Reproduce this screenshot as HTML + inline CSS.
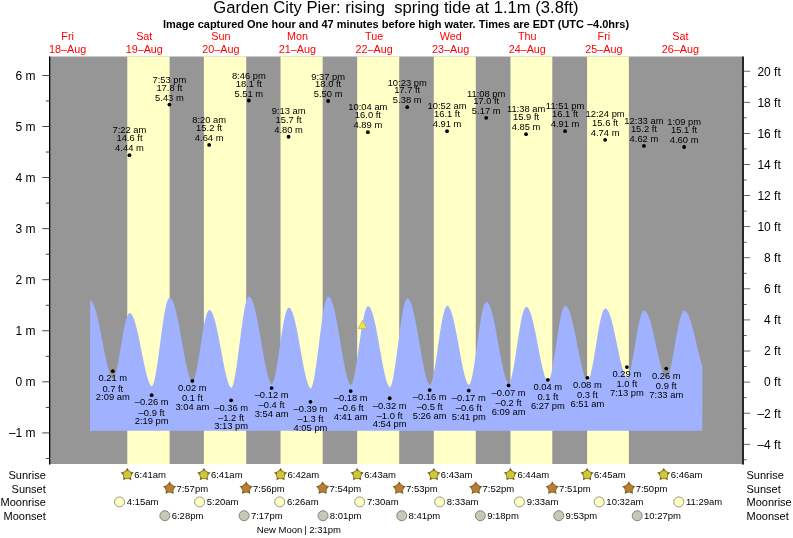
<!DOCTYPE html>
<html lang="en"><head><meta charset="utf-8"><title>Garden City Pier tide times</title>
<style>html,body{margin:0;padding:0;background:#fff}body{width:793px;height:538px;overflow:hidden}svg{display:block}</style>
</head><body>
<svg width="793" height="538" viewBox="0 0 793 538" font-family="'Liberation Sans', Arial, Helvetica, sans-serif" fill="#000">
<rect x="0" y="0" width="793" height="538" fill="#fff"/>
<rect x="49.5" y="56.5" width="693.5" height="407.5" fill="#969696"/>
<rect x="127.28" y="56.5" width="42.34" height="407.5" fill="#ffffc6"/>
<rect x="203.88" y="56.5" width="42.29" height="407.5" fill="#ffffc6"/>
<rect x="280.53" y="56.5" width="42.13" height="407.5" fill="#ffffc6"/>
<rect x="357.19" y="56.5" width="42.02" height="407.5" fill="#ffffc6"/>
<rect x="433.79" y="56.5" width="41.97" height="407.5" fill="#ffffc6"/>
<rect x="510.44" y="56.5" width="41.86" height="407.5" fill="#ffffc6"/>
<rect x="587.09" y="56.5" width="41.76" height="407.5" fill="#ffffc6"/>
<path d="M89.99,430.8 L90.19,300.44 L90.69,300.58 L91.19,300.88 L91.69,301.34 L92.19,301.96 L92.69,302.75 L93.19,303.69 L93.69,304.78 L94.19,306.02 L94.69,307.40 L95.19,308.92 L95.69,310.57 L96.19,312.35 L96.69,314.24 L97.19,316.25 L97.69,318.35 L98.20,320.55 L98.70,322.83 L99.20,325.19 L99.70,327.62 L100.20,330.10 L100.70,332.62 L101.20,335.19 L101.70,337.77 L102.20,340.37 L102.70,342.97 L103.20,345.57 L103.70,348.14 L104.20,350.69 L104.70,353.20 L105.20,355.65 L105.70,358.04 L106.20,360.35 L106.70,362.58 L107.20,364.72 L107.70,366.75 L108.20,368.66 L108.70,370.45 L109.20,372.10 L109.70,373.60 L110.20,374.95 L110.70,376.12 L111.20,377.12 L111.70,377.92 L112.20,378.51 L112.70,378.86 L113.20,378.89 L113.70,378.46 L114.20,377.66 L114.70,376.54 L115.20,375.14 L115.70,373.47 L116.20,371.56 L116.70,369.44 L117.20,367.13 L117.70,364.65 L118.20,362.02 L118.70,359.26 L119.20,356.41 L119.70,353.48 L120.20,350.50 L120.70,347.50 L121.20,344.49 L121.70,341.51 L122.21,338.57 L122.71,335.70 L123.21,332.92 L123.71,330.25 L124.21,327.71 L124.71,325.33 L125.21,323.12 L125.71,321.10 L126.21,319.28 L126.71,317.68 L127.21,316.31 L127.71,315.17 L128.21,314.29 L128.71,313.66 L129.21,313.29 L129.71,313.18 L130.21,313.28 L130.71,313.54 L131.21,313.97 L131.71,314.55 L132.21,315.30 L132.71,316.20 L133.21,317.26 L133.71,318.46 L134.21,319.80 L134.71,321.28 L135.21,322.89 L135.71,324.63 L136.21,326.48 L136.71,328.44 L137.21,330.50 L137.71,332.64 L138.21,334.87 L138.71,337.17 L139.21,339.54 L139.71,341.95 L140.21,344.41 L140.71,346.89 L141.21,349.39 L141.71,351.90 L142.21,354.41 L142.71,356.90 L143.21,359.36 L143.71,361.79 L144.21,364.16 L144.71,366.48 L145.21,368.72 L145.72,370.88 L146.22,372.94 L146.72,374.90 L147.22,376.74 L147.72,378.46 L148.22,380.04 L148.72,381.47 L149.22,382.74 L149.72,383.84 L150.22,384.75 L150.72,385.47 L151.22,385.97 L151.72,386.23 L152.22,386.05 L152.72,385.36 L153.22,384.26 L153.72,382.79 L154.22,380.98 L154.72,378.87 L155.22,376.48 L155.72,373.83 L156.22,370.94 L156.72,367.85 L157.22,364.59 L157.72,361.16 L158.22,357.61 L158.72,353.96 L159.22,350.24 L159.72,346.47 L160.22,342.67 L160.72,338.89 L161.22,335.14 L161.72,331.44 L162.22,327.83 L162.72,324.33 L163.22,320.97 L163.72,317.75 L164.22,314.72 L164.72,311.89 L165.22,309.27 L165.72,306.88 L166.22,304.75 L166.72,302.88 L167.22,301.29 L167.72,299.99 L168.22,298.98 L168.72,298.28 L169.22,297.88 L169.73,297.80 L170.23,297.92 L170.73,298.23 L171.23,298.71 L171.73,299.37 L172.23,300.20 L172.73,301.19 L173.23,302.35 L173.73,303.67 L174.23,305.15 L174.73,306.77 L175.23,308.54 L175.73,310.43 L176.23,312.46 L176.73,314.60 L177.23,316.86 L177.73,319.21 L178.23,321.66 L178.73,324.19 L179.23,326.79 L179.73,329.45 L180.23,332.16 L180.73,334.91 L181.23,337.69 L181.73,340.48 L182.23,343.27 L182.73,346.06 L183.23,348.83 L183.73,351.56 L184.23,354.25 L184.73,356.89 L185.23,359.46 L185.73,361.94 L186.23,364.34 L186.73,366.64 L187.23,368.82 L187.73,370.87 L188.23,372.79 L188.73,374.56 L189.23,376.18 L189.73,377.62 L190.23,378.88 L190.73,379.95 L191.23,380.80 L191.73,381.43 L192.23,381.81 L192.73,381.83 L193.23,381.36 L193.74,380.50 L194.24,379.30 L194.74,377.78 L195.24,375.99 L195.74,373.94 L196.24,371.65 L196.74,369.16 L197.24,366.49 L197.74,363.65 L198.24,360.68 L198.74,357.61 L199.24,354.45 L199.74,351.23 L200.24,347.98 L200.74,344.73 L201.24,341.49 L201.74,338.30 L202.24,335.19 L202.74,332.16 L203.24,329.25 L203.74,326.48 L204.24,323.87 L204.74,321.44 L205.24,319.20 L205.74,317.18 L206.24,315.39 L206.74,313.84 L207.24,312.55 L207.74,311.52 L208.24,310.76 L208.74,310.28 L209.24,310.08 L209.74,310.13 L210.24,310.36 L210.74,310.77 L211.24,311.35 L211.74,312.11 L212.24,313.03 L212.74,314.13 L213.24,315.38 L213.74,316.79 L214.24,318.35 L214.74,320.05 L215.24,321.89 L215.74,323.86 L216.24,325.94 L216.74,328.13 L217.25,330.43 L217.75,332.81 L218.25,335.27 L218.75,337.80 L219.25,340.39 L219.75,343.02 L220.25,345.69 L220.75,348.37 L221.25,351.07 L221.75,353.76 L222.25,356.44 L222.75,359.08 L223.25,361.69 L223.75,364.25 L224.25,366.73 L224.75,369.14 L225.25,371.46 L225.75,373.68 L226.25,375.78 L226.75,377.76 L227.25,379.59 L227.75,381.28 L228.25,382.81 L228.75,384.16 L229.25,385.33 L229.75,386.29 L230.25,387.04 L230.75,387.55 L231.25,387.79 L231.75,387.54 L232.25,386.77 L232.75,385.58 L233.25,384.01 L233.75,382.09 L234.25,379.87 L234.75,377.35 L235.25,374.57 L235.75,371.55 L236.25,368.33 L236.75,364.92 L237.25,361.36 L237.75,357.67 L238.25,353.87 L238.75,350.01 L239.25,346.10 L239.75,342.18 L240.25,338.26 L240.75,334.39 L241.26,330.58 L241.76,326.86 L242.26,323.27 L242.76,319.81 L243.26,316.52 L243.76,313.42 L244.26,310.53 L244.76,307.87 L245.26,305.45 L245.76,303.30 L246.26,301.43 L246.76,299.84 L247.26,298.56 L247.76,297.59 L248.26,296.93 L248.76,296.59 L249.26,296.57 L249.76,296.75 L250.26,297.11 L250.76,297.66 L251.26,298.40 L251.76,299.31 L252.26,300.40 L252.76,301.67 L253.26,303.10 L253.76,304.69 L254.26,306.43 L254.76,308.32 L255.26,310.36 L255.76,312.52 L256.26,314.81 L256.76,317.20 L257.26,319.71 L257.76,322.30 L258.26,324.98 L258.76,327.73 L259.26,330.54 L259.76,333.40 L260.26,336.29 L260.76,339.21 L261.26,342.13 L261.76,345.06 L262.26,347.97 L262.76,350.86 L263.26,353.71 L263.76,356.50 L264.26,359.24 L264.77,361.89 L265.27,364.46 L265.77,366.92 L266.27,369.27 L266.77,371.50 L267.27,373.58 L267.77,375.52 L268.27,377.30 L268.77,378.90 L269.27,380.32 L269.77,381.54 L270.27,382.54 L270.77,383.32 L271.27,383.84 L271.77,384.06 L272.27,383.79 L272.77,383.07 L273.27,381.96 L273.77,380.52 L274.27,378.77 L274.77,376.74 L275.27,374.46 L275.77,371.94 L276.27,369.22 L276.77,366.31 L277.27,363.26 L277.77,360.07 L278.27,356.78 L278.77,353.42 L279.27,350.01 L279.77,346.58 L280.27,343.15 L280.77,339.75 L281.27,336.41 L281.77,333.16 L282.27,330.01 L282.77,326.98 L283.27,324.12 L283.77,321.42 L284.27,318.92 L284.77,316.63 L285.27,314.57 L285.77,312.75 L286.27,311.19 L286.77,309.90 L287.27,308.89 L287.77,308.16 L288.27,307.73 L288.78,307.58 L289.28,307.68 L289.78,307.96 L290.28,308.43 L290.78,309.08 L291.28,309.91 L291.78,310.92 L292.28,312.10 L292.78,313.44 L293.28,314.95 L293.78,316.61 L294.28,318.42 L294.78,320.37 L295.28,322.44 L295.78,324.64 L296.28,326.95 L296.78,329.37 L297.28,331.87 L297.78,334.45 L298.28,337.10 L298.78,339.81 L299.28,342.56 L299.78,345.34 L300.28,348.14 L300.78,350.94 L301.28,353.74 L301.78,356.52 L302.28,359.26 L302.78,361.96 L303.28,364.60 L303.78,367.16 L304.28,369.64 L304.78,372.02 L305.28,374.29 L305.78,376.44 L306.28,378.45 L306.78,380.32 L307.28,382.02 L307.78,383.55 L308.28,384.90 L308.78,386.05 L309.28,386.98 L309.78,387.68 L310.28,388.13 L310.78,388.24 L311.28,387.79 L311.78,386.87 L312.29,385.53 L312.79,383.83 L313.29,381.79 L313.79,379.44 L314.29,376.81 L314.79,373.93 L315.29,370.82 L315.79,367.50 L316.29,364.01 L316.79,360.37 L317.29,356.62 L317.79,352.77 L318.29,348.86 L318.79,344.92 L319.29,340.97 L319.79,337.04 L320.29,333.16 L320.79,329.36 L321.29,325.67 L321.79,322.10 L322.29,318.69 L322.79,315.45 L323.29,312.42 L323.79,309.60 L324.29,307.02 L324.79,304.70 L325.29,302.65 L325.79,300.89 L326.29,299.42 L326.79,298.26 L327.29,297.42 L327.79,296.90 L328.29,296.70 L328.79,296.78 L329.29,297.05 L329.79,297.51 L330.29,298.16 L330.79,299.00 L331.29,300.02 L331.79,301.22 L332.29,302.59 L332.79,304.13 L333.29,305.84 L333.79,307.69 L334.29,309.70 L334.79,311.85 L335.29,314.12 L335.79,316.52 L336.30,319.02 L336.80,321.63 L337.30,324.33 L337.80,327.10 L338.30,329.94 L338.80,332.83 L339.30,335.76 L339.80,338.73 L340.30,341.71 L340.80,344.69 L341.30,347.66 L341.80,350.61 L342.30,353.53 L342.80,356.39 L343.30,359.19 L343.80,361.92 L344.30,364.56 L344.80,367.09 L345.30,369.52 L345.80,371.81 L346.30,373.97 L346.80,375.98 L347.30,377.82 L347.80,379.49 L348.30,380.97 L348.80,382.25 L349.30,383.31 L349.80,384.14 L350.30,384.71 L350.80,384.99 L351.30,384.79 L351.80,384.11 L352.30,383.05 L352.80,381.64 L353.30,379.92 L353.80,377.90 L354.30,375.63 L354.80,373.12 L355.30,370.40 L355.80,367.48 L356.30,364.41 L356.80,361.20 L357.30,357.89 L357.80,354.48 L358.30,351.02 L358.80,347.54 L359.30,344.04 L359.81,340.57 L360.31,337.15 L360.81,333.80 L361.31,330.55 L361.81,327.42 L362.31,324.43 L362.81,321.61 L363.31,318.98 L363.81,316.55 L364.31,314.34 L364.81,312.37 L365.31,310.66 L365.81,309.21 L366.31,308.03 L366.81,307.14 L367.31,306.54 L367.81,306.23 L368.31,306.20 L368.81,306.39 L369.31,306.76 L369.81,307.31 L370.31,308.05 L370.81,308.97 L371.31,310.07 L371.81,311.34 L372.31,312.78 L372.81,314.37 L373.31,316.12 L373.81,318.02 L374.31,320.05 L374.81,322.21 L375.31,324.48 L375.81,326.87 L376.31,329.35 L376.81,331.92 L377.31,334.56 L377.81,337.26 L378.31,340.02 L378.81,342.81 L379.31,345.63 L379.81,348.46 L380.31,351.28 L380.81,354.10 L381.31,356.88 L381.81,359.62 L382.31,362.31 L382.81,364.93 L383.31,367.47 L383.82,369.91 L384.32,372.25 L384.82,374.47 L385.32,376.55 L385.82,378.49 L386.32,380.28 L386.82,381.89 L387.32,383.32 L387.82,384.55 L388.32,385.58 L388.82,386.37 L389.32,386.91 L389.82,387.17 L390.32,386.92 L390.82,386.16 L391.32,384.99 L391.82,383.44 L392.32,381.54 L392.82,379.34 L393.32,376.84 L393.82,374.09 L394.32,371.11 L394.82,367.92 L395.32,364.55 L395.82,361.03 L396.32,357.39 L396.82,353.65 L397.32,349.84 L397.82,346.00 L398.32,342.14 L398.82,338.30 L399.32,334.50 L399.82,330.78 L400.32,327.15 L400.82,323.65 L401.32,320.29 L401.82,317.11 L402.32,314.12 L402.82,311.34 L403.32,308.80 L403.82,306.51 L404.32,304.48 L404.82,302.74 L405.32,301.28 L405.82,300.13 L406.32,299.30 L406.82,298.77 L407.33,298.57 L407.83,298.64 L408.33,298.90 L408.83,299.34 L409.33,299.98 L409.83,300.79 L410.33,301.79 L410.83,302.96 L411.33,304.30 L411.83,305.80 L412.33,307.47 L412.83,309.29 L413.33,311.25 L413.83,313.34 L414.33,315.57 L414.83,317.91 L415.33,320.36 L415.83,322.91 L416.33,325.55 L416.83,328.26 L417.33,331.04 L417.83,333.87 L418.33,336.74 L418.83,339.63 L419.33,342.55 L419.83,345.46 L420.33,348.37 L420.83,351.25 L421.33,354.10 L421.83,356.90 L422.33,359.63 L422.83,362.30 L423.33,364.87 L423.83,367.35 L424.33,369.71 L424.83,371.95 L425.33,374.05 L425.83,376.00 L426.33,377.80 L426.83,379.41 L427.33,380.85 L427.83,382.08 L428.33,383.11 L428.83,383.90 L429.33,384.44 L429.83,384.68 L430.33,384.45 L430.83,383.75 L431.34,382.67 L431.84,381.26 L432.34,379.54 L432.84,377.54 L433.34,375.28 L433.84,372.79 L434.34,370.09 L434.84,367.21 L435.34,364.17 L435.84,360.99 L436.34,357.71 L436.84,354.34 L437.34,350.92 L437.84,347.46 L438.34,344.00 L438.84,340.56 L439.34,337.16 L439.84,333.83 L440.34,330.60 L440.84,327.48 L441.34,324.50 L441.84,321.69 L442.34,319.05 L442.84,316.61 L443.34,314.39 L443.84,312.39 L444.34,310.65 L444.84,309.16 L445.34,307.94 L445.84,307.00 L446.34,306.34 L446.84,305.96 L447.34,305.88 L447.84,306.01 L448.34,306.33 L448.84,306.83 L449.34,307.51 L449.84,308.37 L450.34,309.41 L450.84,310.61 L451.34,311.98 L451.84,313.51 L452.34,315.18 L452.84,317.01 L453.34,318.96 L453.84,321.05 L454.34,323.25 L454.84,325.56 L455.35,327.97 L455.85,330.46 L456.35,333.03 L456.85,335.66 L457.35,338.35 L457.85,341.07 L458.35,343.82 L458.85,346.58 L459.35,349.35 L459.85,352.10 L460.35,354.83 L460.85,357.52 L461.35,360.16 L461.85,362.73 L462.35,365.22 L462.85,367.63 L463.35,369.93 L463.85,372.12 L464.35,374.18 L464.85,376.10 L465.35,377.86 L465.85,379.47 L466.35,380.89 L466.85,382.13 L467.35,383.16 L467.85,383.96 L468.35,384.53 L468.85,384.82 L469.35,384.67 L469.85,384.01 L470.35,382.94 L470.85,381.52 L471.35,379.77 L471.85,377.72 L472.35,375.39 L472.85,372.82 L473.35,370.03 L473.85,367.03 L474.35,363.87 L474.85,360.56 L475.35,357.13 L475.85,353.61 L476.35,350.03 L476.85,346.40 L477.35,342.77 L477.85,339.15 L478.35,335.57 L478.86,332.05 L479.36,328.63 L479.86,325.33 L480.36,322.17 L480.86,319.17 L481.36,316.35 L481.86,313.74 L482.36,311.35 L482.86,309.20 L483.36,307.30 L483.86,305.66 L484.36,304.31 L484.86,303.24 L485.36,302.47 L485.86,302.00 L486.36,301.83 L486.86,301.91 L487.36,302.17 L487.86,302.61 L488.36,303.23 L488.86,304.02 L489.36,304.99 L489.86,306.12 L490.36,307.41 L490.86,308.86 L491.36,310.46 L491.86,312.20 L492.36,314.09 L492.86,316.10 L493.36,318.23 L493.86,320.47 L494.36,322.82 L494.86,325.25 L495.36,327.77 L495.86,330.36 L496.36,333.01 L496.86,335.70 L497.36,338.44 L497.86,341.19 L498.36,343.96 L498.86,346.73 L499.36,349.49 L499.86,352.22 L500.36,354.92 L500.86,357.57 L501.36,360.16 L501.86,362.67 L502.36,365.09 L502.87,367.42 L503.37,369.64 L503.87,371.74 L504.37,373.70 L504.87,375.52 L505.37,377.18 L505.87,378.68 L506.37,379.99 L506.87,381.11 L507.37,382.02 L507.87,382.71 L508.37,383.15 L508.87,383.28 L509.37,382.90 L509.87,382.13 L510.37,381.00 L510.87,379.57 L511.37,377.84 L511.87,375.86 L512.37,373.63 L512.87,371.19 L513.37,368.56 L513.87,365.75 L514.37,362.80 L514.87,359.73 L515.37,356.55 L515.87,353.30 L516.37,350.00 L516.87,346.68 L517.37,343.35 L517.87,340.04 L518.37,336.79 L518.87,333.59 L519.37,330.50 L519.87,327.51 L520.37,324.66 L520.87,321.96 L521.37,319.44 L521.87,317.10 L522.37,314.98 L522.87,313.07 L523.37,311.40 L523.87,309.97 L524.37,308.80 L524.87,307.90 L525.37,307.26 L525.87,306.90 L526.38,306.81 L526.88,306.93 L527.38,307.23 L527.88,307.70 L528.38,308.34 L528.88,309.15 L529.38,310.12 L529.88,311.26 L530.38,312.55 L530.88,313.99 L531.38,315.58 L531.88,317.30 L532.38,319.15 L532.88,321.12 L533.38,323.20 L533.88,325.39 L534.38,327.66 L534.88,330.02 L535.38,332.45 L535.88,334.94 L536.38,337.48 L536.88,340.06 L537.38,342.67 L537.88,345.28 L538.38,347.90 L538.88,350.51 L539.38,353.09 L539.88,355.64 L540.38,358.14 L540.88,360.57 L541.38,362.94 L541.88,365.22 L542.38,367.40 L542.88,369.48 L543.38,371.43 L543.88,373.25 L544.38,374.93 L544.88,376.45 L545.38,377.80 L545.88,378.98 L546.38,379.96 L546.88,380.73 L547.38,381.27 L547.88,381.56 L548.38,381.43 L548.88,380.82 L549.38,379.85 L549.88,378.54 L550.39,376.92 L550.89,375.03 L551.39,372.88 L551.89,370.51 L552.39,367.92 L552.89,365.16 L553.39,362.24 L553.89,359.18 L554.39,356.02 L554.89,352.77 L555.39,349.47 L555.89,346.13 L556.39,342.78 L556.89,339.45 L557.39,336.17 L557.89,332.95 L558.39,329.81 L558.89,326.79 L559.39,323.91 L559.89,321.18 L560.39,318.62 L560.89,316.26 L561.39,314.10 L561.89,312.17 L562.39,310.48 L562.89,309.04 L563.39,307.86 L563.89,306.95 L564.39,306.31 L564.89,305.96 L565.39,305.88 L565.89,306.00 L566.39,306.29 L566.89,306.75 L567.39,307.37 L567.89,308.15 L568.39,309.08 L568.89,310.18 L569.39,311.42 L569.89,312.80 L570.39,314.32 L570.89,315.97 L571.39,317.75 L571.89,319.65 L572.39,321.65 L572.89,323.75 L573.39,325.95 L573.90,328.22 L574.40,330.57 L574.90,332.99 L575.40,335.45 L575.90,337.95 L576.40,340.49 L576.90,343.04 L577.40,345.60 L577.90,348.16 L578.40,350.70 L578.90,353.21 L579.40,355.69 L579.90,358.12 L580.40,360.48 L580.90,362.78 L581.40,364.99 L581.90,367.10 L582.40,369.11 L582.90,371.00 L583.40,372.77 L583.90,374.40 L584.40,375.87 L584.90,377.19 L585.40,378.34 L585.90,379.30 L586.40,380.07 L586.90,380.61 L587.40,380.92 L587.90,380.86 L588.40,380.35 L588.90,379.50 L589.40,378.34 L589.90,376.90 L590.40,375.20 L590.90,373.27 L591.40,371.12 L591.90,368.78 L592.40,366.27 L592.90,363.60 L593.40,360.81 L593.90,357.90 L594.40,354.92 L594.90,351.86 L595.40,348.77 L595.90,345.65 L596.40,342.54 L596.90,339.45 L597.40,336.41 L597.91,333.44 L598.41,330.55 L598.91,327.78 L599.41,325.13 L599.91,322.62 L600.41,320.27 L600.91,318.10 L601.41,316.13 L601.91,314.36 L602.41,312.80 L602.91,311.48 L603.41,310.39 L603.91,309.54 L604.41,308.95 L604.91,308.61 L605.41,308.52 L605.91,308.63 L606.41,308.90 L606.91,309.33 L607.41,309.92 L607.91,310.66 L608.41,311.56 L608.91,312.60 L609.41,313.80 L609.91,315.13 L610.41,316.59 L610.91,318.18 L611.41,319.89 L611.91,321.71 L612.41,323.63 L612.91,325.65 L613.41,327.75 L613.91,329.93 L614.41,332.18 L614.91,334.48 L615.41,336.83 L615.91,339.22 L616.41,341.63 L616.91,344.05 L617.41,346.47 L617.91,348.88 L618.41,351.27 L618.91,353.63 L619.41,355.94 L619.91,358.20 L620.41,360.39 L620.91,362.50 L621.42,364.52 L621.92,366.44 L622.42,368.25 L622.92,369.94 L623.42,371.50 L623.92,372.91 L624.42,374.17 L624.92,375.26 L625.42,376.17 L625.92,376.89 L626.42,377.40 L626.92,377.67 L627.42,377.56 L627.92,377.03 L628.42,376.15 L628.92,374.96 L629.42,373.50 L629.92,371.79 L630.42,369.85 L630.92,367.70 L631.42,365.36 L631.92,362.86 L632.42,360.22 L632.92,357.45 L633.42,354.59 L633.92,351.66 L634.42,348.68 L634.92,345.67 L635.42,342.66 L635.92,339.67 L636.42,336.72 L636.92,333.84 L637.42,331.04 L637.92,328.35 L638.42,325.78 L638.92,323.36 L639.42,321.11 L639.92,319.03 L640.42,317.15 L640.92,315.48 L641.42,314.03 L641.92,312.81 L642.42,311.83 L642.92,311.10 L643.42,310.62 L643.92,310.40 L644.42,310.41 L644.92,310.58 L645.43,310.91 L645.93,311.38 L646.43,311.99 L646.93,312.75 L647.43,313.66 L647.93,314.69 L648.43,315.87 L648.93,317.17 L649.43,318.59 L649.93,320.12 L650.43,321.77 L650.93,323.52 L651.43,325.37 L651.93,327.30 L652.43,329.31 L652.93,331.39 L653.43,333.54 L653.93,335.74 L654.43,337.97 L654.93,340.25 L655.43,342.54 L655.93,344.85 L656.43,347.16 L656.93,349.47 L657.43,351.75 L657.93,354.01 L658.43,356.23 L658.93,358.40 L659.43,360.51 L659.93,362.55 L660.43,364.51 L660.93,366.39 L661.43,368.16 L661.93,369.82 L662.43,371.37 L662.93,372.78 L663.43,374.06 L663.93,375.19 L664.43,376.16 L664.93,376.96 L665.43,377.58 L665.93,377.99 L666.43,378.16 L666.93,377.93 L667.43,377.33 L667.93,376.44 L668.43,375.27 L668.93,373.85 L669.44,372.20 L669.94,370.35 L670.44,368.31 L670.94,366.09 L671.44,363.73 L671.94,361.23 L672.44,358.62 L672.94,355.91 L673.44,353.13 L673.94,350.30 L674.44,347.44 L674.94,344.56 L675.44,341.70 L675.94,338.85 L676.44,336.06 L676.94,333.33 L677.44,330.69 L677.94,328.14 L678.44,325.72 L678.94,323.43 L679.44,321.29 L679.94,319.32 L680.44,317.53 L680.94,315.92 L681.44,314.51 L681.94,313.32 L682.44,312.34 L682.94,311.58 L683.44,311.06 L683.94,310.76 L684.44,310.70 L684.94,310.80 L685.44,311.04 L685.94,311.41 L686.44,311.91 L686.94,312.55 L687.44,313.32 L687.94,314.21 L688.44,315.23 L688.94,316.36 L689.44,317.61 L689.94,318.96 L690.44,320.42 L690.94,321.98 L691.44,323.63 L691.94,325.36 L692.44,327.17 L692.95,329.05 L693.45,330.99 L693.95,332.99 L694.45,335.03 L694.95,337.11 L695.45,339.22 L695.95,341.35 L696.45,343.49 L696.95,345.64 L697.45,347.78 L697.95,349.90 L698.45,352.00 L698.95,354.06 L699.45,356.08 L699.95,358.05 L700.45,359.96 L700.95,361.80 L701.45,363.55 L701.95,365.23 L702.45,366.80 L702.25,430.8 Z" fill="#a0b2ff"/>
<rect x="49" y="56.5" width="1.3" height="408.1" fill="#000"/>
<rect x="742" y="56.5" width="2" height="408.1" fill="#26262e"/>
<rect x="45.8" y="458.00" width="3.5" height="0.9" fill="#333"/>
<rect x="42.3" y="432.47" width="7" height="0.9" fill="#333"/>
<text x="35.6" y="437" font-size="12" text-anchor="end">–1 m</text>
<rect x="45.8" y="406.94" width="3.5" height="0.9" fill="#333"/>
<rect x="42.3" y="381.40" width="7" height="0.9" fill="#333"/>
<text x="35.6" y="386" font-size="12" text-anchor="end">0 m</text>
<rect x="45.8" y="355.86" width="3.5" height="0.9" fill="#333"/>
<rect x="42.3" y="330.33" width="7" height="0.9" fill="#333"/>
<text x="35.6" y="335" font-size="12" text-anchor="end">1 m</text>
<rect x="45.8" y="304.79" width="3.5" height="0.9" fill="#333"/>
<rect x="42.3" y="279.26" width="7" height="0.9" fill="#333"/>
<text x="35.6" y="284" font-size="12" text-anchor="end">2 m</text>
<rect x="45.8" y="253.72" width="3.5" height="0.9" fill="#333"/>
<rect x="42.3" y="228.19" width="7" height="0.9" fill="#333"/>
<text x="35.6" y="233" font-size="12" text-anchor="end">3 m</text>
<rect x="45.8" y="202.65" width="3.5" height="0.9" fill="#333"/>
<rect x="42.3" y="177.12" width="7" height="0.9" fill="#333"/>
<text x="35.6" y="182" font-size="12" text-anchor="end">4 m</text>
<rect x="45.8" y="151.58" width="3.5" height="0.9" fill="#333"/>
<rect x="42.3" y="126.05" width="7" height="0.9" fill="#333"/>
<text x="35.6" y="131" font-size="12" text-anchor="end">5 m</text>
<rect x="45.8" y="100.51" width="3.5" height="0.9" fill="#333"/>
<rect x="42.3" y="74.98" width="7" height="0.9" fill="#333"/>
<text x="35.6" y="80" font-size="12" text-anchor="end">6 m</text>
<rect x="743.5" y="459.42" width="3.2" height="0.8" fill="#444"/>
<rect x="743.5" y="443.88" width="6.7" height="0.8" fill="#444"/>
<text x="780.8" y="449" font-size="12" text-anchor="end">–4 ft</text>
<rect x="743.5" y="428.33" width="3.2" height="0.8" fill="#444"/>
<rect x="743.5" y="412.79" width="6.7" height="0.8" fill="#444"/>
<text x="780.8" y="418" font-size="12" text-anchor="end">–2 ft</text>
<rect x="743.5" y="397.25" width="3.2" height="0.8" fill="#444"/>
<rect x="743.5" y="381.70" width="6.7" height="0.8" fill="#444"/>
<text x="780.8" y="386" font-size="12" text-anchor="end">0 ft</text>
<rect x="743.5" y="366.15" width="3.2" height="0.8" fill="#444"/>
<rect x="743.5" y="350.61" width="6.7" height="0.8" fill="#444"/>
<text x="780.8" y="355" font-size="12" text-anchor="end">2 ft</text>
<rect x="743.5" y="335.06" width="3.2" height="0.8" fill="#444"/>
<rect x="743.5" y="319.52" width="6.7" height="0.8" fill="#444"/>
<text x="780.8" y="324" font-size="12" text-anchor="end">4 ft</text>
<rect x="743.5" y="303.98" width="3.2" height="0.8" fill="#444"/>
<rect x="743.5" y="288.43" width="6.7" height="0.8" fill="#444"/>
<text x="780.8" y="293" font-size="12" text-anchor="end">6 ft</text>
<rect x="743.5" y="272.88" width="3.2" height="0.8" fill="#444"/>
<rect x="743.5" y="257.34" width="6.7" height="0.8" fill="#444"/>
<text x="780.8" y="262" font-size="12" text-anchor="end">8 ft</text>
<rect x="743.5" y="241.79" width="3.2" height="0.8" fill="#444"/>
<rect x="743.5" y="226.25" width="6.7" height="0.8" fill="#444"/>
<text x="780.8" y="231" font-size="12" text-anchor="end">10 ft</text>
<rect x="743.5" y="210.70" width="3.2" height="0.8" fill="#444"/>
<rect x="743.5" y="195.16" width="6.7" height="0.8" fill="#444"/>
<text x="780.8" y="200" font-size="12" text-anchor="end">12 ft</text>
<rect x="743.5" y="179.61" width="3.2" height="0.8" fill="#444"/>
<rect x="743.5" y="164.07" width="6.7" height="0.8" fill="#444"/>
<text x="780.8" y="169" font-size="12" text-anchor="end">14 ft</text>
<rect x="743.5" y="148.52" width="3.2" height="0.8" fill="#444"/>
<rect x="743.5" y="132.98" width="6.7" height="0.8" fill="#444"/>
<text x="780.8" y="138" font-size="12" text-anchor="end">16 ft</text>
<rect x="743.5" y="117.44" width="3.2" height="0.8" fill="#444"/>
<rect x="743.5" y="101.89" width="6.7" height="0.8" fill="#444"/>
<text x="780.8" y="107" font-size="12" text-anchor="end">18 ft</text>
<rect x="743.5" y="86.34" width="3.2" height="0.8" fill="#444"/>
<rect x="743.5" y="70.80" width="6.7" height="0.8" fill="#444"/>
<text x="780.8" y="76" font-size="12" text-anchor="end">20 ft</text>
<text transform="translate(396,13) scale(0.9765,1)" font-size="17" text-anchor="middle" xml:space="preserve">Garden City Pier: rising  spring tide at 1.1m (3.8ft)</text>
<text x="396" y="28" font-size="10.98" font-weight="bold" text-anchor="middle">Image captured One hour and 47 minutes before high water. Times are EDT (UTC –4.0hrs)</text>
<text x="67.65" y="40" font-size="10.8" fill="#f00" text-anchor="middle">Fri</text>
<text x="67.65" y="53" font-size="10.8" fill="#f00" text-anchor="middle">18–Aug</text>
<text x="144.25" y="40" font-size="10.8" fill="#f00" text-anchor="middle">Sat</text>
<text x="144.25" y="53" font-size="10.8" fill="#f00" text-anchor="middle">19–Aug</text>
<text x="220.85" y="40" font-size="10.8" fill="#f00" text-anchor="middle">Sun</text>
<text x="220.85" y="53" font-size="10.8" fill="#f00" text-anchor="middle">20–Aug</text>
<text x="297.45" y="40" font-size="10.8" fill="#f00" text-anchor="middle">Mon</text>
<text x="297.45" y="53" font-size="10.8" fill="#f00" text-anchor="middle">21–Aug</text>
<text x="374.05" y="40" font-size="10.8" fill="#f00" text-anchor="middle">Tue</text>
<text x="374.05" y="53" font-size="10.8" fill="#f00" text-anchor="middle">22–Aug</text>
<text x="450.65" y="40" font-size="10.8" fill="#f00" text-anchor="middle">Wed</text>
<text x="450.65" y="53" font-size="10.8" fill="#f00" text-anchor="middle">23–Aug</text>
<text x="527.25" y="40" font-size="10.8" fill="#f00" text-anchor="middle">Thu</text>
<text x="527.25" y="53" font-size="10.8" fill="#f00" text-anchor="middle">24–Aug</text>
<text x="603.85" y="40" font-size="10.8" fill="#f00" text-anchor="middle">Fri</text>
<text x="603.85" y="53" font-size="10.8" fill="#f00" text-anchor="middle">25–Aug</text>
<text x="680.45" y="40" font-size="10.8" fill="#f00" text-anchor="middle">Sat</text>
<text x="680.45" y="53" font-size="10.8" fill="#f00" text-anchor="middle">26–Aug</text>
<circle cx="129.46" cy="155.15" r="1.9" fill="#000"/>
<text x="129.46" y="132.75" font-size="9.4" text-anchor="middle">7:22 am</text>
<text x="129.46" y="141.15" font-size="9.4" text-anchor="middle">14.6 ft</text>
<text x="129.46" y="151.35" font-size="9.4" text-anchor="middle">4.44 m</text>
<circle cx="169.41" cy="104.59" r="1.9" fill="#000"/>
<text x="169.41" y="83.29" font-size="9.4" text-anchor="middle">7:53 pm</text>
<text x="169.41" y="90.59" font-size="9.4" text-anchor="middle">17.8 ft</text>
<text x="169.41" y="100.79" font-size="9.4" text-anchor="middle">5.43 m</text>
<circle cx="209.15" cy="144.94" r="1.9" fill="#000"/>
<text x="209.15" y="122.54" font-size="9.4" text-anchor="middle">8:20 am</text>
<text x="209.15" y="130.94" font-size="9.4" text-anchor="middle">15.2 ft</text>
<text x="209.15" y="141.14" font-size="9.4" text-anchor="middle">4.64 m</text>
<circle cx="248.83" cy="100.50" r="1.9" fill="#000"/>
<text x="248.83" y="79.20" font-size="9.4" text-anchor="middle">8:46 pm</text>
<text x="248.83" y="86.50" font-size="9.4" text-anchor="middle">18.1 ft</text>
<text x="248.83" y="96.70" font-size="9.4" text-anchor="middle">5.51 m</text>
<circle cx="288.57" cy="136.76" r="1.9" fill="#000"/>
<text x="288.57" y="114.36" font-size="9.4" text-anchor="middle">9:13 am</text>
<text x="288.57" y="122.76" font-size="9.4" text-anchor="middle">15.7 ft</text>
<text x="288.57" y="132.96" font-size="9.4" text-anchor="middle">4.80 m</text>
<circle cx="328.14" cy="101.01" r="1.9" fill="#000"/>
<text x="328.14" y="79.71" font-size="9.4" text-anchor="middle">9:37 pm</text>
<text x="328.14" y="87.01" font-size="9.4" text-anchor="middle">18.0 ft</text>
<text x="328.14" y="97.21" font-size="9.4" text-anchor="middle">5.50 m</text>
<circle cx="367.88" cy="132.17" r="1.9" fill="#000"/>
<text x="367.88" y="109.77" font-size="9.4" text-anchor="middle">10:04 am</text>
<text x="367.88" y="118.17" font-size="9.4" text-anchor="middle">16.0 ft</text>
<text x="367.88" y="128.37" font-size="9.4" text-anchor="middle">4.89 m</text>
<circle cx="407.19" cy="107.14" r="1.9" fill="#000"/>
<text x="407.19" y="85.84" font-size="9.4" text-anchor="middle">10:23 pm</text>
<text x="407.19" y="93.14" font-size="9.4" text-anchor="middle">17.7 ft</text>
<text x="407.19" y="103.34" font-size="9.4" text-anchor="middle">5.38 m</text>
<circle cx="447.03" cy="131.15" r="1.9" fill="#000"/>
<text x="447.03" y="108.75" font-size="9.4" text-anchor="middle">10:52 am</text>
<text x="447.03" y="117.15" font-size="9.4" text-anchor="middle">16.1 ft</text>
<text x="447.03" y="127.35" font-size="9.4" text-anchor="middle">4.91 m</text>
<circle cx="486.18" cy="117.87" r="1.9" fill="#000"/>
<text x="486.18" y="96.57" font-size="9.4" text-anchor="middle">11:08 pm</text>
<text x="486.18" y="103.87" font-size="9.4" text-anchor="middle">17.0 ft</text>
<text x="486.18" y="114.07" font-size="9.4" text-anchor="middle">5.17 m</text>
<circle cx="526.08" cy="134.21" r="1.9" fill="#000"/>
<text x="526.08" y="111.81" font-size="9.4" text-anchor="middle">11:38 am</text>
<text x="526.08" y="120.21" font-size="9.4" text-anchor="middle">15.9 ft</text>
<text x="526.08" y="130.41" font-size="9.4" text-anchor="middle">4.85 m</text>
<circle cx="565.07" cy="131.15" r="1.9" fill="#000"/>
<text x="565.07" y="108.75" font-size="9.4" text-anchor="middle">11:51 pm</text>
<text x="565.07" y="117.15" font-size="9.4" text-anchor="middle">16.1 ft</text>
<text x="565.07" y="127.35" font-size="9.4" text-anchor="middle">4.91 m</text>
<circle cx="605.13" cy="139.83" r="1.9" fill="#000"/>
<text x="605.13" y="117.43" font-size="9.4" text-anchor="middle">12:24 pm</text>
<text x="605.13" y="125.83" font-size="9.4" text-anchor="middle">15.6 ft</text>
<text x="605.13" y="136.03" font-size="9.4" text-anchor="middle">4.74 m</text>
<circle cx="643.91" cy="145.96" r="1.9" fill="#000"/>
<text x="643.91" y="123.56" font-size="9.4" text-anchor="middle">12:33 am</text>
<text x="643.91" y="131.96" font-size="9.4" text-anchor="middle">15.2 ft</text>
<text x="643.91" y="142.16" font-size="9.4" text-anchor="middle">4.62 m</text>
<circle cx="684.12" cy="146.98" r="1.9" fill="#000"/>
<text x="684.12" y="124.58" font-size="9.4" text-anchor="middle">1:09 pm</text>
<text x="684.12" y="132.98" font-size="9.4" text-anchor="middle">15.1 ft</text>
<text x="684.12" y="143.18" font-size="9.4" text-anchor="middle">4.60 m</text>
<circle cx="112.81" cy="371.18" r="1.9" fill="#000"/>
<text x="112.81" y="381.48" font-size="9.4" text-anchor="middle">0.21 m</text>
<text x="112.81" y="391.58" font-size="9.4" text-anchor="middle">0.7 ft</text>
<text x="112.81" y="400.28" font-size="9.4" text-anchor="middle">2:09 am</text>
<circle cx="151.64" cy="395.18" r="1.9" fill="#000"/>
<text x="151.64" y="405.48" font-size="9.4" text-anchor="middle">–0.26 m</text>
<text x="151.64" y="415.58" font-size="9.4" text-anchor="middle">–0.9 ft</text>
<text x="151.64" y="424.28" font-size="9.4" text-anchor="middle">2:19 pm</text>
<circle cx="192.34" cy="380.88" r="1.9" fill="#000"/>
<text x="192.34" y="391.18" font-size="9.4" text-anchor="middle">0.02 m</text>
<text x="192.34" y="401.28" font-size="9.4" text-anchor="middle">0.1 ft</text>
<text x="192.34" y="409.98" font-size="9.4" text-anchor="middle">3:04 am</text>
<circle cx="231.12" cy="400.29" r="1.9" fill="#000"/>
<text x="231.12" y="410.59" font-size="9.4" text-anchor="middle">–0.36 m</text>
<text x="231.12" y="420.69" font-size="9.4" text-anchor="middle">–1.2 ft</text>
<text x="231.12" y="429.39" font-size="9.4" text-anchor="middle">3:13 pm</text>
<circle cx="271.60" cy="388.03" r="1.9" fill="#000"/>
<text x="271.60" y="398.33" font-size="9.4" text-anchor="middle">–0.12 m</text>
<text x="271.60" y="408.43" font-size="9.4" text-anchor="middle">–0.4 ft</text>
<text x="271.60" y="417.13" font-size="9.4" text-anchor="middle">3:54 am</text>
<circle cx="310.48" cy="401.82" r="1.9" fill="#000"/>
<text x="310.48" y="412.12" font-size="9.4" text-anchor="middle">–0.39 m</text>
<text x="310.48" y="422.22" font-size="9.4" text-anchor="middle">–1.3 ft</text>
<text x="310.48" y="430.92" font-size="9.4" text-anchor="middle">4:05 pm</text>
<circle cx="350.70" cy="391.09" r="1.9" fill="#000"/>
<text x="350.70" y="401.39" font-size="9.4" text-anchor="middle">–0.18 m</text>
<text x="350.70" y="411.49" font-size="9.4" text-anchor="middle">–0.6 ft</text>
<text x="350.70" y="420.19" font-size="9.4" text-anchor="middle">4:41 am</text>
<circle cx="389.69" cy="398.24" r="1.9" fill="#000"/>
<text x="389.69" y="408.54" font-size="9.4" text-anchor="middle">–0.32 m</text>
<text x="389.69" y="418.64" font-size="9.4" text-anchor="middle">–1.0 ft</text>
<text x="389.69" y="427.34" font-size="9.4" text-anchor="middle">4:54 pm</text>
<circle cx="429.69" cy="390.07" r="1.9" fill="#000"/>
<text x="429.69" y="400.37" font-size="9.4" text-anchor="middle">–0.16 m</text>
<text x="429.69" y="410.47" font-size="9.4" text-anchor="middle">–0.5 ft</text>
<text x="429.69" y="419.17" font-size="9.4" text-anchor="middle">5:26 am</text>
<circle cx="468.79" cy="390.58" r="1.9" fill="#000"/>
<text x="468.79" y="400.88" font-size="9.4" text-anchor="middle">–0.17 m</text>
<text x="468.79" y="410.98" font-size="9.4" text-anchor="middle">–0.6 ft</text>
<text x="468.79" y="419.68" font-size="9.4" text-anchor="middle">5:41 pm</text>
<circle cx="508.58" cy="385.47" r="1.9" fill="#000"/>
<text x="508.58" y="395.77" font-size="9.4" text-anchor="middle">–0.07 m</text>
<text x="508.58" y="405.87" font-size="9.4" text-anchor="middle">–0.2 ft</text>
<text x="508.58" y="414.57" font-size="9.4" text-anchor="middle">6:09 am</text>
<circle cx="547.84" cy="379.86" r="1.9" fill="#000"/>
<text x="547.84" y="390.16" font-size="9.4" text-anchor="middle">0.04 m</text>
<text x="547.84" y="400.26" font-size="9.4" text-anchor="middle">0.1 ft</text>
<text x="547.84" y="408.96" font-size="9.4" text-anchor="middle">6:27 pm</text>
<circle cx="587.41" cy="377.81" r="1.9" fill="#000"/>
<text x="587.41" y="388.11" font-size="9.4" text-anchor="middle">0.08 m</text>
<text x="587.41" y="398.21" font-size="9.4" text-anchor="middle">0.3 ft</text>
<text x="587.41" y="406.91" font-size="9.4" text-anchor="middle">6:51 am</text>
<circle cx="626.88" cy="367.09" r="1.9" fill="#000"/>
<text x="626.88" y="377.39" font-size="9.4" text-anchor="middle">0.29 m</text>
<text x="626.88" y="387.49" font-size="9.4" text-anchor="middle">1.0 ft</text>
<text x="626.88" y="396.19" font-size="9.4" text-anchor="middle">7:13 pm</text>
<circle cx="666.25" cy="368.62" r="1.9" fill="#000"/>
<text x="666.25" y="378.92" font-size="9.4" text-anchor="middle">0.26 m</text>
<text x="666.25" y="389.02" font-size="9.4" text-anchor="middle">0.9 ft</text>
<text x="666.25" y="397.72" font-size="9.4" text-anchor="middle">7:33 am</text>
<path d="M362.49,320.3 L366.79,328.7 L358.19,328.7 Z" fill="#f2e63c" stroke="#b8a070" stroke-width="0.7"/>
<text x="45.8" y="478.8" font-size="11" text-anchor="end">Sunrise</text>
<text x="746.5" y="478.8" font-size="11">Sunrise</text>
<text x="45.8" y="492.5" font-size="11" text-anchor="end">Sunset</text>
<text x="746.5" y="492.5" font-size="11">Sunset</text>
<text x="45.8" y="506.2" font-size="11" text-anchor="end">Moonrise</text>
<text x="746.5" y="506.2" font-size="11">Moonrise</text>
<text x="45.8" y="519.8" font-size="11" text-anchor="end">Moonset</text>
<text x="746.5" y="519.8" font-size="11">Moonset</text>
<path d="M127.28,467.65L125.53,470.72L129.03,470.72ZM133.94,472.49L130.48,471.77L131.56,475.10ZM131.40,480.31L131.00,476.80L128.17,478.86ZM123.17,480.31L126.39,478.86L123.56,476.80ZM120.62,472.49L123.00,475.10L124.09,471.77Z" fill="#86661a"/><circle cx="127.28" cy="474.65" r="4.5" fill="#86661a"/><circle cx="127.28" cy="474.65" r="3.75" fill="#c9c93a"/>
<text x="134.28" y="477.85" font-size="9.5">6:41am</text>
<path d="M203.88,467.65L202.13,470.72L205.63,470.72ZM210.54,472.49L207.08,471.77L208.16,475.10ZM208.00,480.31L207.60,476.80L204.77,478.86ZM199.77,480.31L202.99,478.86L200.16,476.80ZM197.22,472.49L199.60,475.10L200.69,471.77Z" fill="#86661a"/><circle cx="203.88" cy="474.65" r="4.5" fill="#86661a"/><circle cx="203.88" cy="474.65" r="3.75" fill="#c9c93a"/>
<text x="210.88" y="477.85" font-size="9.5">6:41am</text>
<path d="M280.53,467.65L278.79,470.72L282.28,470.72ZM287.19,472.49L283.73,471.77L284.81,475.10ZM284.65,480.31L284.26,476.80L281.43,478.86ZM276.42,480.31L279.64,478.86L276.81,476.80ZM273.88,472.49L276.26,475.10L277.34,471.77Z" fill="#86661a"/><circle cx="280.53" cy="474.65" r="4.5" fill="#86661a"/><circle cx="280.53" cy="474.65" r="3.75" fill="#c9c93a"/>
<text x="287.53" y="477.85" font-size="9.5">6:42am</text>
<path d="M357.19,467.65L355.44,470.72L358.94,470.72ZM363.84,472.49L360.38,471.77L361.46,475.10ZM361.30,480.31L360.91,476.80L358.08,478.86ZM353.07,480.31L356.29,478.86L353.46,476.80ZM350.53,472.49L352.91,475.10L353.99,471.77Z" fill="#86661a"/><circle cx="357.19" cy="474.65" r="4.5" fill="#86661a"/><circle cx="357.19" cy="474.65" r="3.75" fill="#c9c93a"/>
<text x="364.19" y="477.85" font-size="9.5">6:43am</text>
<path d="M433.79,467.65L432.04,470.72L435.54,470.72ZM440.44,472.49L436.98,471.77L438.06,475.10ZM437.90,480.31L437.51,476.80L434.68,478.86ZM429.67,480.31L432.89,478.86L430.06,476.80ZM427.13,472.49L429.51,475.10L430.59,471.77Z" fill="#86661a"/><circle cx="433.79" cy="474.65" r="4.5" fill="#86661a"/><circle cx="433.79" cy="474.65" r="3.75" fill="#c9c93a"/>
<text x="440.79" y="477.85" font-size="9.5">6:43am</text>
<path d="M510.44,467.65L508.69,470.72L512.19,470.72ZM517.10,472.49L513.64,471.77L514.72,475.10ZM514.56,480.31L514.16,476.80L511.33,478.86ZM506.33,480.31L509.55,478.86L506.72,476.80ZM503.78,472.49L506.16,475.10L507.25,471.77Z" fill="#86661a"/><circle cx="510.44" cy="474.65" r="4.5" fill="#86661a"/><circle cx="510.44" cy="474.65" r="3.75" fill="#c9c93a"/>
<text x="517.44" y="477.85" font-size="9.5">6:44am</text>
<path d="M587.09,467.65L585.34,470.72L588.84,470.72ZM593.75,472.49L590.29,471.77L591.37,475.10ZM591.21,480.31L590.82,476.80L587.99,478.86ZM582.98,480.31L586.20,478.86L583.37,476.80ZM580.44,472.49L582.82,475.10L583.90,471.77Z" fill="#86661a"/><circle cx="587.09" cy="474.65" r="4.5" fill="#86661a"/><circle cx="587.09" cy="474.65" r="3.75" fill="#c9c93a"/>
<text x="594.09" y="477.85" font-size="9.5">6:45am</text>
<path d="M663.75,467.65L662.00,470.72L665.50,470.72ZM670.40,472.49L666.94,471.77L668.02,475.10ZM667.86,480.31L667.47,476.80L664.64,478.86ZM659.63,480.31L662.85,478.86L660.02,476.80ZM657.09,472.49L659.47,475.10L660.55,471.77Z" fill="#86661a"/><circle cx="663.75" cy="474.65" r="4.5" fill="#86661a"/><circle cx="663.75" cy="474.65" r="3.75" fill="#c9c93a"/>
<text x="670.75" y="477.85" font-size="9.5">6:46am</text>
<path d="M169.62,481.30L167.87,484.37L171.37,484.37ZM176.28,486.14L172.82,485.42L173.90,488.75ZM173.74,493.96L173.35,490.45L170.52,492.51ZM165.51,493.96L168.73,492.51L165.90,490.45ZM162.97,486.14L165.35,488.75L166.43,485.42Z" fill="#86661a"/><circle cx="169.62" cy="488.30" r="4.5" fill="#86661a"/><circle cx="169.62" cy="488.30" r="3.75" fill="#b87c3c"/>
<text x="176.42" y="491.50" font-size="9.5">7:57pm</text>
<path d="M246.17,481.30L244.42,484.37L247.92,484.37ZM252.83,486.14L249.37,485.42L250.45,488.75ZM250.29,493.96L249.89,490.45L247.06,492.51ZM242.06,493.96L245.28,492.51L242.45,490.45ZM239.51,486.14L241.89,488.75L242.98,485.42Z" fill="#86661a"/><circle cx="246.17" cy="488.30" r="4.5" fill="#86661a"/><circle cx="246.17" cy="488.30" r="3.75" fill="#b87c3c"/>
<text x="252.97" y="491.50" font-size="9.5">7:56pm</text>
<path d="M322.66,481.30L320.92,484.37L324.41,484.37ZM329.32,486.14L325.86,485.42L326.94,488.75ZM326.78,493.96L326.39,490.45L323.56,492.51ZM318.55,493.96L321.77,492.51L318.94,490.45ZM316.01,486.14L318.39,488.75L319.47,485.42Z" fill="#86661a"/><circle cx="322.66" cy="488.30" r="4.5" fill="#86661a"/><circle cx="322.66" cy="488.30" r="3.75" fill="#b87c3c"/>
<text x="329.46" y="491.50" font-size="9.5">7:54pm</text>
<path d="M399.21,481.30L397.46,484.37L400.96,484.37ZM405.87,486.14L402.41,485.42L403.49,488.75ZM403.33,493.96L402.93,490.45L400.10,492.51ZM395.10,493.96L398.32,492.51L395.49,490.45ZM392.55,486.14L394.93,488.75L396.02,485.42Z" fill="#86661a"/><circle cx="399.21" cy="488.30" r="4.5" fill="#86661a"/><circle cx="399.21" cy="488.30" r="3.75" fill="#b87c3c"/>
<text x="406.01" y="491.50" font-size="9.5">7:53pm</text>
<path d="M475.76,481.30L474.01,484.37L477.51,484.37ZM482.42,486.14L478.95,485.42L480.03,488.75ZM479.87,493.96L479.48,490.45L476.65,492.51ZM471.64,493.96L474.86,492.51L472.03,490.45ZM469.10,486.14L471.48,488.75L472.56,485.42Z" fill="#86661a"/><circle cx="475.76" cy="488.30" r="4.5" fill="#86661a"/><circle cx="475.76" cy="488.30" r="3.75" fill="#b87c3c"/>
<text x="482.56" y="491.50" font-size="9.5">7:52pm</text>
<path d="M552.30,481.30L550.56,484.37L554.05,484.37ZM558.96,486.14L555.50,485.42L556.58,488.75ZM556.42,493.96L556.03,490.45L553.20,492.51ZM548.19,493.96L551.41,492.51L548.58,490.45ZM545.65,486.14L548.03,488.75L549.11,485.42Z" fill="#86661a"/><circle cx="552.30" cy="488.30" r="4.5" fill="#86661a"/><circle cx="552.30" cy="488.30" r="3.75" fill="#b87c3c"/>
<text x="559.10" y="491.50" font-size="9.5">7:51pm</text>
<path d="M628.85,481.30L627.10,484.37L630.60,484.37ZM635.51,486.14L632.05,485.42L633.13,488.75ZM632.97,493.96L632.58,490.45L629.75,492.51ZM624.74,493.96L627.96,492.51L625.13,490.45ZM622.19,486.14L624.57,488.75L625.66,485.42Z" fill="#86661a"/><circle cx="628.85" cy="488.30" r="4.5" fill="#86661a"/><circle cx="628.85" cy="488.30" r="3.75" fill="#b87c3c"/>
<text x="635.65" y="491.50" font-size="9.5">7:50pm</text>
<circle cx="119.51" cy="501.9" r="5.0" fill="#ffffc4" stroke="#86867c" stroke-width="0.85"/>
<text x="126.71" y="505.10" font-size="9.5">4:15am</text>
<circle cx="199.57" cy="501.9" r="5.0" fill="#ffffc4" stroke="#86867c" stroke-width="0.85"/>
<text x="206.77" y="505.10" font-size="9.5">5:20am</text>
<circle cx="279.68" cy="501.9" r="5.0" fill="#ffffc4" stroke="#86867c" stroke-width="0.85"/>
<text x="286.88" y="505.10" font-size="9.5">6:26am</text>
<circle cx="359.69" cy="501.9" r="5.0" fill="#ffffc4" stroke="#86867c" stroke-width="0.85"/>
<text x="366.89" y="505.10" font-size="9.5">7:30am</text>
<circle cx="439.64" cy="501.9" r="5.0" fill="#ffffc4" stroke="#86867c" stroke-width="0.85"/>
<text x="446.84" y="505.10" font-size="9.5">8:33am</text>
<circle cx="519.43" cy="501.9" r="5.0" fill="#ffffc4" stroke="#86867c" stroke-width="0.85"/>
<text x="526.63" y="505.10" font-size="9.5">9:33am</text>
<circle cx="599.17" cy="501.9" r="5.0" fill="#ffffc4" stroke="#86867c" stroke-width="0.85"/>
<text x="606.37" y="505.10" font-size="9.5">10:32am</text>
<circle cx="678.80" cy="501.9" r="5.0" fill="#ffffc4" stroke="#86867c" stroke-width="0.85"/>
<text x="686.00" y="505.10" font-size="9.5">11:29am</text>
<circle cx="164.89" cy="515.7" r="5.0" fill="#c8c8b4" stroke="#747474" stroke-width="0.85"/>
<text x="171.69" y="518.90" font-size="9.5">6:28pm</text>
<circle cx="244.10" cy="515.7" r="5.0" fill="#c8c8b4" stroke="#747474" stroke-width="0.85"/>
<text x="250.90" y="518.90" font-size="9.5">7:17pm</text>
<circle cx="323.04" cy="515.7" r="5.0" fill="#c8c8b4" stroke="#747474" stroke-width="0.85"/>
<text x="329.84" y="518.90" font-size="9.5">8:01pm</text>
<circle cx="401.76" cy="515.7" r="5.0" fill="#c8c8b4" stroke="#747474" stroke-width="0.85"/>
<text x="408.56" y="518.90" font-size="9.5">8:41pm</text>
<circle cx="480.33" cy="515.7" r="5.0" fill="#c8c8b4" stroke="#747474" stroke-width="0.85"/>
<text x="487.13" y="518.90" font-size="9.5">9:18pm</text>
<circle cx="558.79" cy="515.7" r="5.0" fill="#c8c8b4" stroke="#747474" stroke-width="0.85"/>
<text x="565.59" y="518.90" font-size="9.5">9:53pm</text>
<circle cx="637.20" cy="515.7" r="5.0" fill="#c8c8b4" stroke="#747474" stroke-width="0.85"/>
<text x="644.00" y="518.90" font-size="9.5">10:27pm</text>
<text x="302.28" y="532.8" font-size="9.5" text-anchor="end">New Moon </text>
<text x="305.48" y="532.8" font-size="9.5" text-anchor="middle">|</text>
<text x="309.28" y="532.8" font-size="9.5">2:31pm</text>
</svg>
</body></html>
